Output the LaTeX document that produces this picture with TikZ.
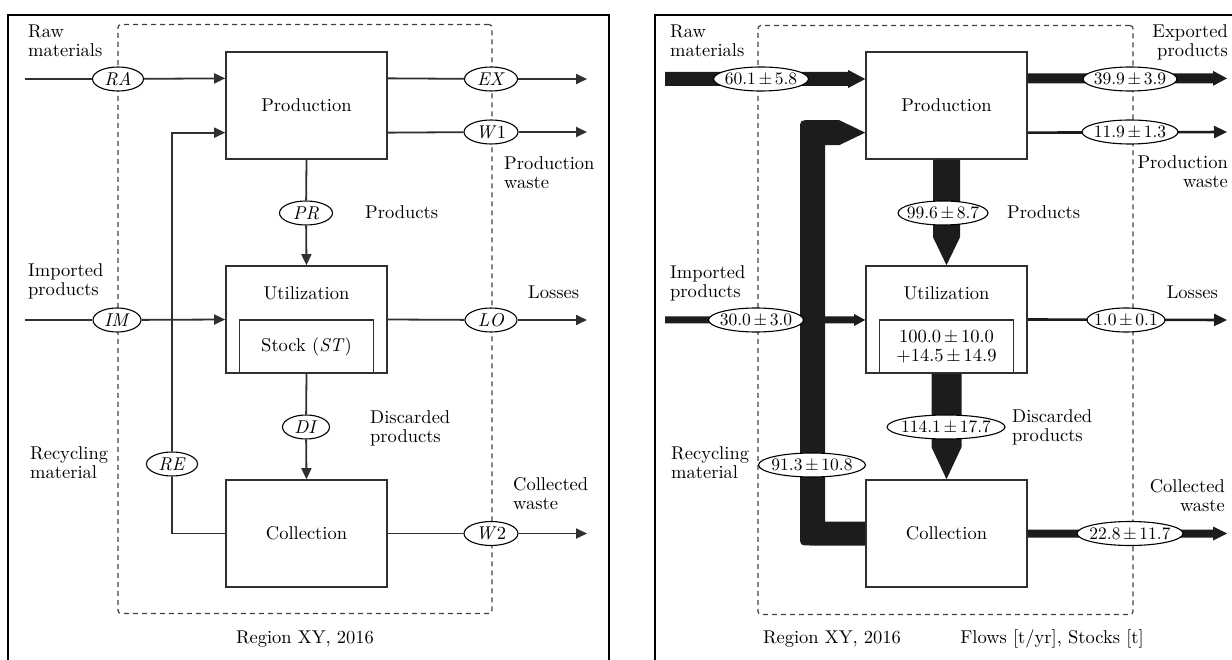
\documentclass[tikz,border=0pt]{standalone}
\usepackage{fontspec}
\setmainfont{lmroman10-regular.otf}[ItalicFont=lmroman10-italic.otf]
\usetikzlibrary{arrows.meta,shapes.geometric,calc}
\definecolor{linegray}{HTML}{303030}
\definecolor{flowblack}{HTML}{1C1C1C}
\definecolor{dashgray}{HTML}{404040}
% centred text of zero width, so the ellipse size is set by its own keys
\newcommand\ctr[1]{\makebox[0pt]{#1}}
\newcommand\pmv{\hspace{0.15em}±\hspace{0.15em}}
% horizontal flow band: start, tip, half shaft, head length, half head
\newcommand\hflow[5]{\fill[flowblack] let \p1=#1, \p2=#2 in
  (\x1,\y1+#3) -- (\x2-#4,\y1+#3) -- (\x2-#4,\y1+#5) -- (\x2,\y1)
  -- (\x2-#4,\y1-#5) -- (\x2-#4,\y1-#3) -- (\x1,\y1-#3) -- cycle;}
% vertical (downward) flow band: start, tip, half shaft, head length, half head
\newcommand\vflow[5]{\fill[flowblack] let \p1=#1, \p2=#2 in
  (\x1-#3,\y1) -- (\x1-#3,\y2+#4) -- (\x1-#5,\y2+#4) -- (\x1,\y2)
  -- (\x1+#5,\y2+#4) -- (\x1+#3,\y2+#4) -- (\x1+#3,\y1) -- cycle;}
\begin{document}
\begin{tikzpicture}[x=1pt,y=-1pt,
  every node/.style={font=\fontsize{18.5}{19}\selectfont, text=black},
  box/.style={draw=linegray, line width=1.6pt, minimum width=161pt, minimum height=107pt, inner sep=0pt},
  stockbox/.style={draw=linegray, line width=1.6pt, minimum width=134pt, minimum height=53pt, inner sep=0pt, align=center},
  sym/.style={ellipse, draw=black, line width=1.1pt, fill=white, inner sep=0pt, minimum height=24pt, minimum width=#1},
  val/.style={sym=#1, font=\fontsize{17.5}{19}\selectfont},
  lbl/.style={inner sep=0pt},
  sysbound/.style={draw=dashgray, line width=1.2pt, dash pattern=on 5pt off 4pt, rounded corners=3pt, minimum width=#1, minimum height=589pt, inner sep=0pt},
  frame/.style={draw=black, line width=2.2pt},
  thin/.style={draw=linegray, line width=1.8pt},
  thinarrow/.style={thin, -{Triangle[length=11pt,width=10pt]}},
  medarrow/.style={draw=flowblack, line width=2.6pt, -{Triangle[length=13pt,width=12pt]}},
]
\useasboundingbox (0,0) rectangle (1232,660);

% ---------------- panel frames ----------------
\draw[frame] (8,680) -- (8,15) -- (609,15) -- (609,680);
\draw[frame] (655,680) -- (655,15) -- (1240,15);

% ---------------- left panel: model structure ----------------
\node[sysbound=374pt] (sysL) at (305,319) {};

\node[box] (prodL) at (306.5,105.5) {Production};
\node[box] (utilL) at (306.5,319.5) {};
\node[lbl] (utilLt) at (306.5,293) {Utilization};
\node[stockbox] (stockL) at (306.5,346.5) {Stock (\textit{ST})};
\node[box] (collL) at (306.5,533.5) {Collection};

\coordinate (prodLa) at ($(prodL.north west)!0.25!(prodL.south west)$);
\coordinate (prodLb) at ($(prodL.north west)!0.75!(prodL.south west)$);
\coordinate (prodLc) at ($(prodL.north east)!0.25!(prodL.south east)$);
\coordinate (prodLd) at ($(prodL.north east)!0.75!(prodL.south east)$);
\coordinate (raInL) at (25,79);
\coordinate (imInL) at (25,320);
\coordinate (exOutL) at (587,79);
\coordinate (w1OutL) at (587,132);
\coordinate (loOutL) at (587,320);
\coordinate (w2OutL) at (587,533.5);

\node[sym=51pt] (RA) at (118,79) {\ctr{\textit{RA}}};
\node[sym=53pt] (EX) at (491,79) {\ctr{\textit{EX}}};
\node[sym=54pt] (W1) at (491,132) {\ctr{\textit{W}1}};
\node[sym=53pt] (PR) at (306,213) {\ctr{\textit{PR}}};
\node[sym=48pt] (IM) at (117,320) {\ctr{\textit{IM}}};
\node[sym=52pt] (LO) at (491,320) {\ctr{\textit{LO}}};
\node[sym=47pt] (DI) at (306,427) {\ctr{\textit{DI}}};
\node[sym=51pt] (RE) at (172,464) {\ctr{\textit{RE}}};
\node[sym=54pt] (W2) at (491,533.5) {\ctr{\textit{W}2}};

\draw[thin] (raInL) -- (RA);
\draw[thinarrow] (RA) -- (prodLa);
\draw[thin] (prodLc) -- (EX);
\draw[thinarrow] (EX) -- (exOutL);
\draw[thin] (prodLd) -- (W1);
\draw[thinarrow] (W1) -- (w1OutL);
\draw[thin] (prodL.south) -- (PR);
\draw[thinarrow] (PR) -- (utilL.north);
\draw[thin] (imInL) -- (IM);
\draw[thinarrow] (IM) -- (utilL.west);
\draw[thin] (utilL.east) -- (LO);
\draw[thinarrow] (LO) -- (loOutL);
\draw[thin] (utilL.south) -- (DI);
\draw[thinarrow] (DI) -- (collL.north);
\draw[thin] (collL.west) -| (RE);
\draw[thinarrow] (RE) |- (prodLb);
\draw[thin] (collL.east) -- (W2);
\draw[thinarrow] (W2) -- (w2OutL);

\node[lbl, anchor=west, align=left] (rawL) at (28,41) {Raw\\materials};
\node[lbl, anchor=west, align=left] (impL) at (28,281) {Imported\\products};
\node[lbl, anchor=west, align=left] (recL) at (30,463) {Recycling\\material};
\node[lbl, anchor=west, align=left] (pwL) at (504,173) {Production\\waste};
\node[lbl, anchor=west] (prodsL) at (365,212) {Products};
\node[lbl, anchor=west] (lossL) at (528,292.5) {Losses};
\node[lbl, anchor=west, align=left] (discL) at (370,428) {Discarded\\products};
\node[lbl, anchor=west, align=left] (cwL) at (513,494) {Collected\\waste};
\node[lbl] (regL) at (305,639) {Region XY, 2016};

% ---------------- right panel: quantified flows ----------------
\node[sysbound=375pt] (sysR) at (945.5,320) {};

\node[box] (prodR) at (946.5,105.5) {Production};
\node[box] (utilR) at (946.5,319.5) {};
\node[lbl] (utilRt) at (946.5,293) {Utilization};
\node[stockbox] (stockR) at (946.5,346.5) {100.0\pmv 10.0\\+14.5\pmv 14.9};
\node[box] (collR) at (946.5,533.5) {Collection};

\coordinate (prodRa) at ($(prodR.north west)!0.25!(prodR.south west)$);
\coordinate (prodRb) at ($(prodR.north west)!0.75!(prodR.south west)$);
\coordinate (prodRc) at ($(prodR.north east)!0.25!(prodR.south east)$);
\coordinate (prodRd) at ($(prodR.north east)!0.75!(prodR.south east)$);
\coordinate (raInR) at (665,79);
\coordinate (imInR) at (665,320);
\coordinate (exOutR) at (1227,79);
\coordinate (w1OutR) at (1227,132);
\coordinate (loOutR) at (1227,320);
\coordinate (w2OutR) at (1227,533.5);

% flow bands, widths scaled to the flow sizes
\hflow{(raInR)}{(prodRa)}{7pt}{17pt}{9pt}
\hflow{(imInR)}{(utilR.west)}{3.5pt}{11pt}{6pt}
\hflow{(prodRc)}{(exOutR)}{5pt}{14pt}{7.5pt}
\hflow{(collR.east)}{(w2OutR)}{4pt}{14pt}{7pt}
\vflow{(prodR.south)}{(utilR.north)}{13.5pt}{28pt}{13.5pt}
\vflow{(utilR.south)}{(collR.north)}{15pt}{32pt}{15pt}
\draw[medarrow] (prodRd) -- (w1OutR);
\draw[medarrow] (utilR.east) -- (loOutR);
% recycling loop from collection back to production
\fill[flowblack] let \p1=(collR.west), \p2=(prodRb) in
  (\x2-26pt,\y2-12.5pt) -- (825pt,\y2-12.5pt) -- (825pt,\y1+12pt) -- (\x1,\y1+12pt)
  -- (\x1,\y1-12pt) -- (810pt,\y1-12pt) .. controls (800pt,\y1-12pt) .. (800pt,\y1-2pt)
  -- (800pt,\y2+2.5pt) .. controls (800pt,\y2+12.5pt) .. (810pt,\y2+12.5pt)
  -- (\x2-26pt,\y2+12.5pt) -- (\x2,\y2) -- cycle;

\node[val=95pt] (RAv) at (761,79) {\ctr{60.1\pmv 5.8}};
\node[val=94pt] (EXv) at (1130,79) {\ctr{39.9\pmv 3.9}};
\node[val=96pt] (W1v) at (1130,132) {\ctr{11.9\pmv 1.3}};
\node[val=90pt] (PRv) at (943,213) {\ctr{99.6\pmv 8.7}};
\node[val=95pt] (IMv) at (756,320) {\ctr{30.0\pmv 3.0}};
\node[val=78pt] (LOv) at (1126,320) {\ctr{1.0\pmv 0.1}};
\node[val=118pt] (DIv) at (946,427) {\ctr{114.1\pmv 17.7}};
\node[val=107pt] (REv) at (812,465) {\ctr{91.3\pmv 10.8}};
\node[val=106pt] (W2v) at (1130,533.5) {\ctr{22.8\pmv 11.7}};

\node[lbl, anchor=west, align=left] (rawR) at (670,41) {Raw\\materials};
\node[lbl, anchor=east, align=right] (expR) at (1228,42) {Exported\\products};
\node[lbl, anchor=east, align=right] (pwR) at (1228,172) {Production\\waste};
\node[lbl, anchor=west] (prodsR) at (1007,212) {Products};
\node[lbl, anchor=west, align=left] (impR) at (670,283) {Imported\\products};
\node[lbl, anchor=east] (lossR) at (1218,292.5) {Losses};
\node[lbl, anchor=west, align=left] (discR) at (1012,427) {Discarded\\products};
\node[lbl, anchor=west, align=left] (recR) at (671,463) {Recycling\\material};
\node[lbl, anchor=east, align=right] (cwR) at (1225,496) {Collected\\waste};
\node[lbl] (regR) at (832,639) {Region XY, 2016};
\node[lbl] (unitsR) at (1052,639) {Flows [t/yr], Stocks [t]};
\end{tikzpicture}
\end{document}
